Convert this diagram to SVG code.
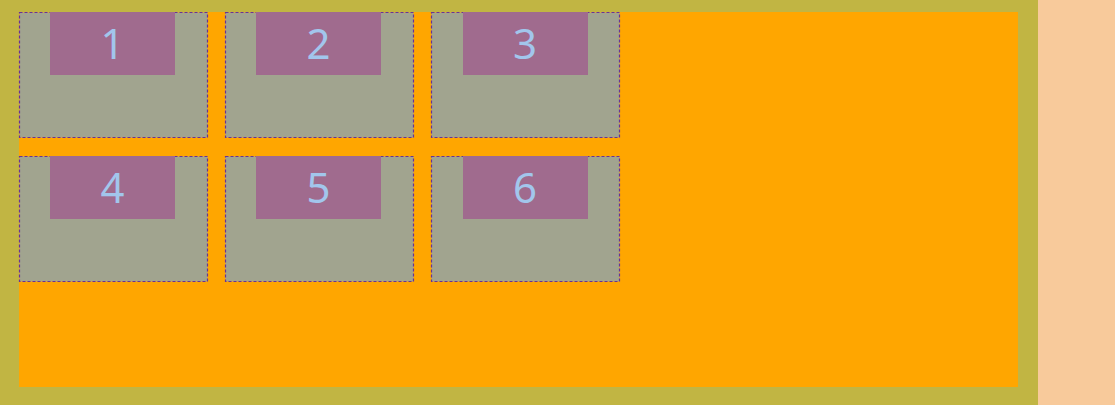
<svg xmlns="http://www.w3.org/2000/svg" width="1115" height="405" viewBox="0 0 1115 405">
<style>
.box{fill:#a1a48f;stroke:#663399;stroke-width:1.2;stroke-dasharray:3 2}
.lab{fill:#a06b8e}
.t{font-family:"Noto Sans","Open Sans",sans-serif;font-size:42px;fill:#a2c6ec;text-anchor:middle}
</style>
<rect x="0" y="0" width="1115" height="405" fill="#f8ca9b"/>
<rect x="0" y="0" width="1038" height="405" fill="#c1b543"/>
<rect x="19" y="12" width="999" height="375" fill="#ffa600"/>
<g id="n1"><rect class="box" x="19.5" y="12.5" width="188" height="125"/><rect class="lab" x="50" y="12" width="125" height="63"/><text class="t" x="112.5" y="59">1</text></g>
<g id="n2"><rect class="box" x="225.5" y="12.5" width="188" height="125"/><rect class="lab" x="256" y="12" width="125" height="63"/><text class="t" x="318.5" y="59">2</text></g>
<g id="n3"><rect class="box" x="431.5" y="12.5" width="188" height="125"/><rect class="lab" x="463" y="12" width="125" height="63"/><text class="t" x="525" y="59">3</text></g>
<g id="n4"><rect class="box" x="19.5" y="156.5" width="188" height="125"/><rect class="lab" x="50" y="156" width="125" height="63"/><text class="t" x="112.5" y="203">4</text></g>
<g id="n5"><rect class="box" x="225.5" y="156.5" width="188" height="125"/><rect class="lab" x="256" y="156" width="125" height="63"/><text class="t" x="318.5" y="203">5</text></g>
<g id="n6"><rect class="box" x="431.5" y="156.5" width="188" height="125"/><rect class="lab" x="463" y="156" width="125" height="63"/><text class="t" x="525" y="203">6</text></g>
<g id="connectors"/>
</svg>
